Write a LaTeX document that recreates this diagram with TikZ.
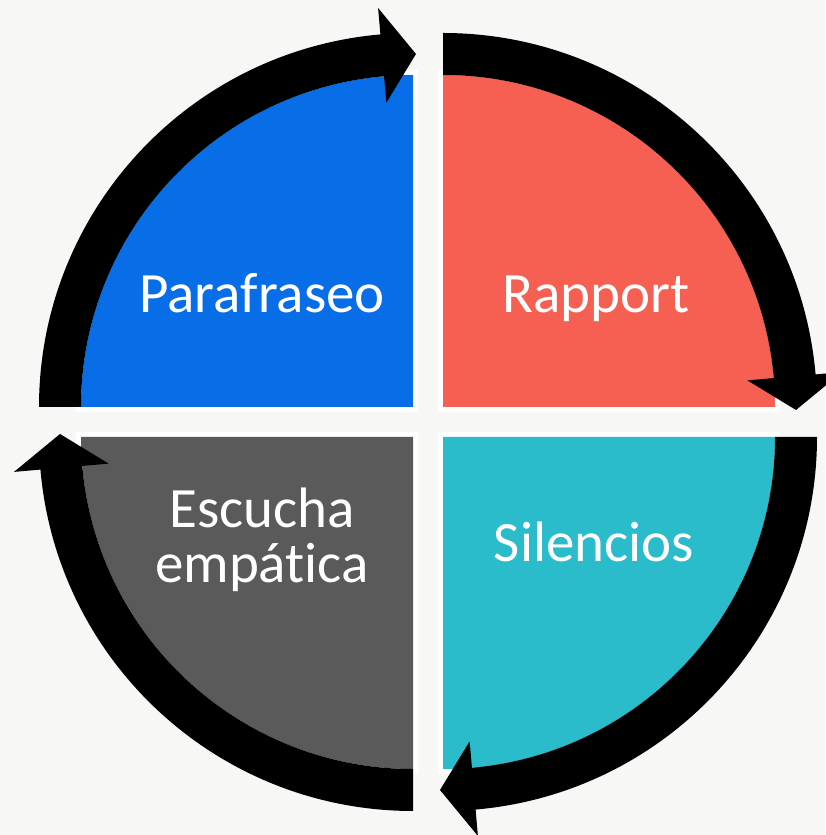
\documentclass[tikz,border=0pt]{standalone}
\usepackage{fontspec}
\setmainfont{Carlito}[Ligatures=NoCommon]
\definecolor{bgc}{HTML}{F7F7F5}
\definecolor{qblue}{HTML}{076EE8}
\definecolor{qred}{HTML}{F66052}
\definecolor{qteal}{HTML}{2BBCCB}
\definecolor{qgray}{HTML}{5A5A5A}
\newcommand{\ringarrow}{%
  \fill[black] (180:374) arc[start angle=180,end angle=95,radius=374]
    -- (95:400.5) -- (3,353) -- (95:305.5) -- (95:332)
    arc[start angle=95,end angle=180,radius=332] -- cycle;}
\tikzset{
  lbl/.style={text=white,font=\fontsize{57}{55}\selectfont,align=center,anchor=base,inner sep=0pt},
  quadborder/.style={draw=white,line width=10pt,line join=miter}
}
\begin{document}
\begin{tikzpicture}[x=1pt,y=1pt]
\fill[bgc] (0,0) rectangle (825,835);
\useasboundingbox (0,0) rectangle (825,835);
% white borders
\draw[quadborder] (413,428) -- (81,428) arc[start angle=180,end angle=90,radius=332] -- cycle;
\draw[quadborder] (443,428) -- (443,760) arc[start angle=90,end angle=0,radius=332] -- cycle;
\draw[quadborder] (443,398) -- (775,398) arc[start angle=0,end angle=-90,radius=332] -- cycle;
\draw[quadborder] (413,398) -- (413,66) arc[start angle=-90,end angle=-180,radius=332] -- cycle;
% quadrants
\fill[qblue] (413,428) -- (81,428) arc[start angle=180,end angle=90,radius=332] -- cycle;
\fill[qred] (443,428) -- (443,760) arc[start angle=90,end angle=0,radius=332] -- cycle;
\fill[qteal] (443,398) -- (775,398) arc[start angle=0,end angle=-90,radius=332] -- cycle;
\fill[qgray] (413,398) -- (413,66) arc[start angle=-90,end angle=-180,radius=332] -- cycle;
% arrows
\begin{scope}[shift={(413,428)}]\ringarrow\end{scope}
\begin{scope}[shift={(443,428)},rotate=-90]\ringarrow\end{scope}
\begin{scope}[shift={(443,398)},rotate=-180]\ringarrow\end{scope}
\begin{scope}[shift={(413,398)},rotate=-270]\ringarrow\end{scope}
% labels
\node[lbl] (para) at (262,522) {Parafraseo};
\node[lbl] (rapp) at (596,522) {Rapport};
\node[lbl] (sil) at (594,273) {Silencios};
\node[lbl] (esc) at (262,252) {Escucha\\empática};
\end{tikzpicture}
\end{document}
